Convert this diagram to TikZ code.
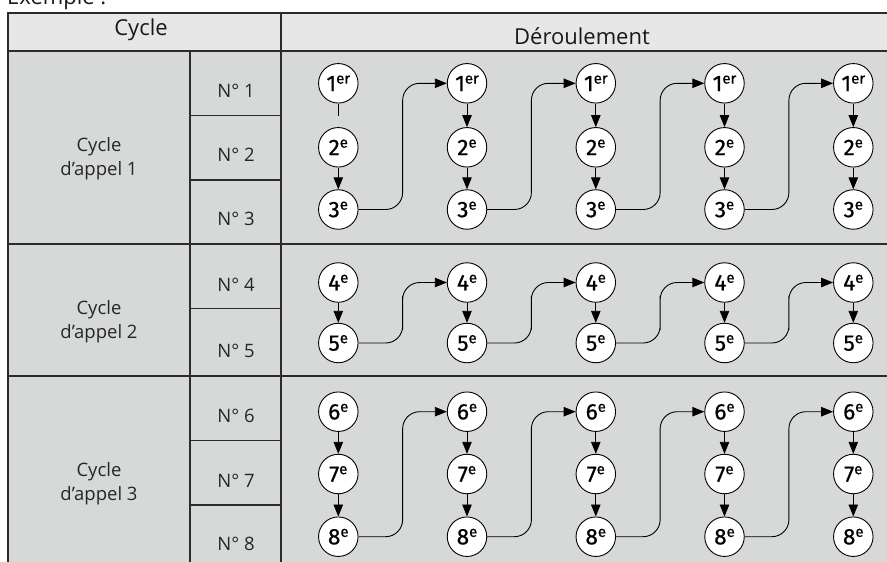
\documentclass[tikz,border=0pt]{standalone}
\usepackage{fontspec}
\setmainfont{Open Sans}
\newfontfamily\circfont{Fira Sans}[FakeBold=0.7]
\usetikzlibrary{arrows.meta,calc}
\definecolor{hdr}{HTML}{E7E7E7}
\definecolor{bodyfill}{HTML}{D7D9D9}
\definecolor{rule}{HTML}{2B2B2B}
\newcommand{\rk}[2]{#1\raisebox{7.5pt}{\fontsize{15}{15}\selectfont #2}}
\begin{document}
\begin{tikzpicture}[x=1pt,y=-1pt,
  cell/.style={draw=rule,line width=1.4pt},
  lbl/.style={font=\fontsize{18.5}{23.5}\selectfont,text=black!85,anchor=base,inner sep=0pt},
  hd/.style={font=\fontsize{22}{24}\selectfont,text=black!90,anchor=base,inner sep=0pt},
  rank/.style={circle,draw=black,line width=0.9pt,fill=white,minimum size=39.5pt,inner sep=0pt,font=\circfont\fontsize{22.5}{22.5}\selectfont},
  arr/.style={-{Triangle[length=12pt,width=9.5pt]},line width=0.9pt},
  link/.style={arr,rounded corners=17pt}]
\useasboundingbox (0,0) rectangle (887,562);
\clip (0,0) rectangle (887,562);
% fills
\fill[hdr] (8,13) rectangle (900,51);
\fill[bodyfill] (8,51) rectangle (900,580);
% title (cut by the page top, as in the reference)
\node[hd,anchor=base west] (title) at (7,5) {Exemple :};
% grid
\draw[cell] (900,13) -- (8,13) -- (8,580);
\draw[cell] (8,51) -- (900,51);
\draw[cell] (8,244) -- (900,244);
\draw[cell] (8,376) -- (900,376);
\draw[cell] (190,51) -- (190,580);
\draw[cell] (281,13) -- (281,580);
\foreach \yy in {115.5,180,308.7,440.5,505}
  \draw[cell] (190,\yy) -- (281,\yy);
% headers
\node[hd] (hcyc) at (141,35) {Cycle};
\node[hd] (hder) at (582,45) {Déroulement};
% cycle labels
\node[lbl,align=center,anchor=base] (c1) at (99,175) {Cycle\\d’appel 1};
\node[lbl,align=center,anchor=base] (c2) at (99,338) {Cycle\\d’appel 2};
\node[lbl,align=center,anchor=base] (c3) at (99,500) {Cycle\\d’appel 3};
% numbers
\node[lbl] (n1) at (236,97.5) {N° 1};
\node[lbl] (n2) at (236,161) {N° 2};
\node[lbl] (n3) at (236,225) {N° 3};
\node[lbl] (n4) at (236,291) {N° 4};
\node[lbl] (n5) at (236,357) {N° 5};
\node[lbl] (n6) at (236,422) {N° 6};
\node[lbl] (n7) at (236,487) {N° 7};
\node[lbl] (n8) at (236,550) {N° 8};
% circles
\foreach \i/\xx in {1/338.3,2/467,3/595.8,4/724.5,5/853.3}{
  \node[rank] (a\i) at (\xx,83.3) {\rk{1}{er}};
  \node[rank] (b\i) at (\xx,147.3) {\rk{2}{e}};
  \node[rank] (c\i) at (\xx,209.5) {\rk{3}{e}};
  \node[rank] (d\i) at (\xx,282.5) {\rk{4}{e}};
  \node[rank] (e\i) at (\xx,343) {\rk{5}{e}};
  \node[rank] (f\i) at (\xx,411.7) {\rk{6}{e}};
  \node[rank] (g\i) at (\xx,474) {\rk{7}{e}};
  \node[rank] (h\i) at (\xx,536.7) {\rk{8}{e}};
}
% vertical arrows
\coordinate (stub) at (338.3,115.5);
\draw[line width=0.9pt] (a1.south) -- (stub);
\foreach \i in {2,3,4,5} \draw[arr] (a\i) -- (b\i);
\foreach \i in {1,...,5}{
  \draw[arr] (b\i) -- (c\i);
  \draw[arr] (d\i) -- (e\i);
  \draw[arr] (f\i) -- (g\i);
  \draw[arr] (g\i) -- (h\i);
}
% links between columns
\foreach \i/\j in {1/2,2/3,3/4,4/5}{
  \draw[link] (c\i.east) -| ($(c\i.east)!0.5!(a\j.west)$) |- (a\j.west);
  \draw[link] (e\i.east) -| ($(e\i.east)!0.5!(d\j.west)$) |- (d\j.west);
  \draw[link] (h\i.east) -| ($(h\i.east)!0.5!(f\j.west)$) |- (f\j.west);
}
\end{tikzpicture}
\end{document}
